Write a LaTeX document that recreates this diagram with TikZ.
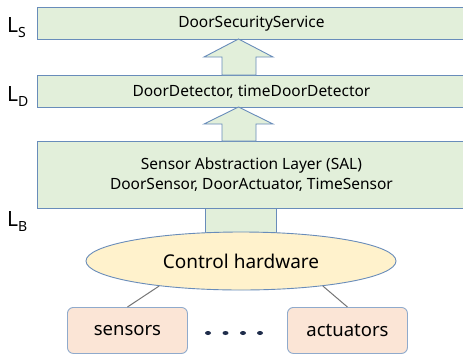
\documentclass[tikz,border=0pt]{standalone}
\usepackage{fontspec}
\setmainfont{Noto Sans}
\usetikzlibrary{shapes.geometric}
\definecolor{layerfill}{RGB}{226,239,218}
\definecolor{layerline}{RGB}{104,140,186}
\definecolor{hwfill}{RGB}{255,242,204}
\definecolor{devfill}{RGB}{251,229,214}
\definecolor{devline}{RGB}{143,170,204}
\definecolor{linkgray}{RGB}{118,118,118}
\definecolor{dotnavy}{RGB}{31,45,75}
\tikzset{
  layer/.style={draw=layerline, fill=layerfill, line width=0.9pt, anchor=north west,
    minimum width=428pt, inner sep=0pt, align=center, font=\fontsize{15.5}{20}\selectfont},
  uparrow/.style={draw=layerline, fill=layerfill, line width=0.9pt, line join=miter},
  hw/.style={ellipse, draw=layerline, fill=hwfill, line width=0.9pt, inner sep=0pt,
    minimum width=310pt, minimum height=58pt, font=\fontsize{19}{22}\selectfont},
  device/.style={rectangle, rounded corners=6pt, draw=devline, fill=devfill, line width=0.9pt,
    anchor=north west, minimum width=120pt, minimum height=46pt, inner sep=0pt,
    font=\fontsize{18.5}{22}\selectfont},
  link/.style={draw=linkgray, line width=1pt},
  levellabel/.style={anchor=base west, inner sep=0pt, font=\fontsize{21}{21}\selectfont},
}
\newcommand{\lvl}[1]{L\raisebox{-5pt}{\fontsize{14}{14}\selectfont #1}}
\begin{document}
\begin{tikzpicture}[x=1pt, y=-1pt]
  \clip (0,0) rectangle (463,354);
  \fill[white] (0,0) rectangle (463,354);

  % layer boxes (right border runs off the page edge)
  \node[layer, minimum height=32pt] (S) at (37,7) {DoorSecurityService};
  \node[layer, minimum height=32pt] (D) at (37,75) {DoorDetector, timeDoorDetector};
  \node[layer, minimum height=67pt] (B) at (37,141)
    {Sensor Abstraction Layer (SAL)\\DoorSensor, DoorActuator, TimeSensor};

  % block arrows between layers
  \draw[uparrow] (238.5,39) -- (273,57) -- (256,57) -- (256,75) -- (222,75)
    -- (222,57) -- (204,57) -- cycle;
  \draw[uparrow] (238.5,107) -- (273,124) -- (256,124) -- (256,141) -- (222,141)
    -- (222,124) -- (204,124) -- cycle;

  % stem from the hardware up to the SAL
  \draw[uparrow] (205,208) rectangle (276,232);

  % hardware and devices
  \node[hw] (ch) at (241,261) {Control hardware};
  \node[device] (sens) at (67,307) {sensors};
  \node[device] (act) at (287,307) {actuators};
  \draw[link] (ch.197) -- (sens.north);
  \draw[link] (ch.343) -- (act.north);

  % ellipsis between the devices
  \foreach \x in {208,225.5,243,260}
    \fill[dotnavy] (\x,333) ellipse (3pt and 2pt);

  % level labels
  \node[levellabel] (lS) at (7,32) {\lvl{S}};
  \node[levellabel] (lD) at (7,101) {\lvl{D}};
  \node[levellabel] (lB) at (7,226) {\lvl{B}};
\end{tikzpicture}
\end{document}
